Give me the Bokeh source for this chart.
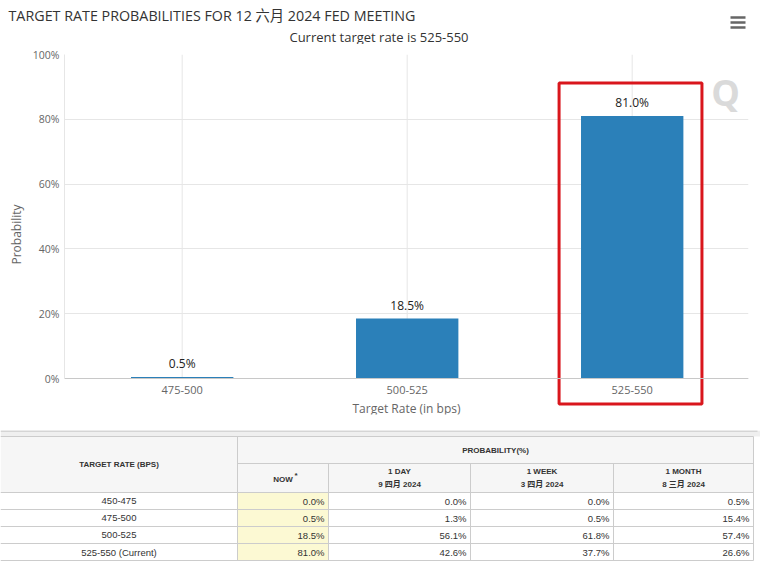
from bokeh.plotting import figure
from bokeh.models import Range1d, FixedTicker, Span, ColumnDataSource
from bokeh.layouts import column
from bokeh.embed import file_html
from bokeh.resources import INLINE
from bokeh.core.properties import value

# ---------------- data ----------------
chart_title = "TARGET RATE PROBABILITIES FOR 12 六月 2024 FED MEETING"
chart_subtitle = "Current target rate is 525-550"
categories = ["475-500", "500-525", "525-550"]
probabilities = [0.5, 18.5, 81.0]
current_category = "525-550"
y_ticks = [0, 20, 40, 60, 80, 100]
y_tick_labels = ["0%", "20%", "40%", "60%", "80%", "100%"]
x_axis_title = "Target Rate (in bps)"
y_axis_title = "Probability"

table_rates = ["450-475", "475-500", "500-525", "525-550 (Current)"]
prob_now = [0.0, 0.5, 18.5, 81.0]
prob_1day = [0.0, 1.3, 56.1, 42.6]
prob_1week = [0.0, 0.5, 61.8, 37.7]
prob_1month = [0.5, 15.4, 57.4, 26.6]
period_names = ["NOW", "1 DAY", "1 WEEK", "1 MONTH"]
period_dates = ["", "9 四月 2024", "3 四月 2024", "8 三月 2024"]
table_head_left = "TARGET RATE (BPS)"
table_head_top = "PROBABILITY(%)"

CHART_FONT = "Open Sans, Noto Sans CJK SC"
GRID = "#e6e6e6"
AXIS_TXT = "#666666"
W = 757

# ---------------- header (title, subtitle, menu icon) ----------------
HH = 44
hdr_fig = figure(width=W, height=HH, x_range=Range1d(0, W), y_range=Range1d(HH, 0), min_border=0,
                 x_axis_location=None, y_axis_location=None, toolbar_location=None, title=None,
                 output_backend="svg", outline_line_color=None)
hdr_fig.frame_align = False
hdr_fig.grid.visible = False
hdr_fig.text(x=[8], y=[15], text=[chart_title], text_align="left", text_baseline="middle",
             text_font=value(CHART_FONT), text_font_size="14.3px", text_color="#333333")
hdr_fig.text(x=[W / 2], y=[36], text=[chart_subtitle], text_align="center",
             text_baseline="middle", text_font=value(CHART_FONT), text_font_size="13px",
             text_color="#333333")
hdr_fig.segment(x0=[730, 730, 730], y0=[17, 22, 27], x1=[745, 745, 745], y1=[17, 22, 27],
                line_color="#666666", line_width=2.5)

# ---------------- chart ----------------
H = 430 - HH
FRAME_L, FRAME_R = 64, 748
FRAME_T, BASE_Y, FRAME_B = 54 - HH, 378 - HH, 414 - HH
CAT_PX = 225.0
FIRST_CENTER = 181.7
ppu = (BASE_Y - FRAME_T) / 100.0
x_start = -(FIRST_CENTER - FRAME_L) / CAT_PX
x_end = x_start + (FRAME_R - FRAME_L) / CAT_PX
y_start = -(FRAME_B - BASE_Y) / ppu

p = figure(width=W, height=H, x_range=Range1d(x_start, x_end), y_range=Range1d(y_start, 100),
           min_border_left=FRAME_L, min_border_right=W - FRAME_R, min_border_top=FRAME_T,
           min_border_bottom=H - FRAME_B, x_axis_location=None, toolbar_location=None,
           title=None, output_backend="svg", outline_line_color=None)
p.frame_align = False
p.background_fill_color = "white"
p.border_fill_color = "white"

p.yaxis.ticker = FixedTicker(ticks=y_ticks)
p.yaxis.major_label_overrides = {t: l for t, l in zip(y_ticks, y_tick_labels)}
p.yaxis.bounds = (0, 100)
p.yaxis.axis_line_color = GRID
p.yaxis.major_tick_line_color = None
p.yaxis.minor_tick_line_color = None
p.yaxis.major_tick_out = 0
p.yaxis.major_tick_in = 0
p.yaxis.minor_tick_out = 0
p.yaxis.major_label_text_font = CHART_FONT
p.yaxis.major_label_text_font_size = "10.5px"
p.yaxis.major_label_text_color = AXIS_TXT
p.yaxis.major_label_standoff = 5
p.yaxis.axis_label = y_axis_title
p.yaxis.axis_label_text_font = CHART_FONT
p.yaxis.axis_label_text_font_size = "12px"
p.yaxis.axis_label_text_font_style = "normal"
p.yaxis.axis_label_text_color = AXIS_TXT
p.yaxis.axis_label_standoff = 5
p.ygrid.grid_line_color = GRID
p.xgrid.grid_line_color = None

xs = list(range(len(categories)))
src = ColumnDataSource(dict(x=xs, top=probabilities, cat=categories,
                            label=[f"{v:.1f}%" for v in probabilities]))

p.segment(x0=xs, y0=[0] * len(xs), x1=xs, y1=[100] * len(xs), line_color=GRID, level="underlay")
p.vbar(x="x", top="top", bottom=0, width=0.455, source=src, fill_color="#2b80b9", line_color=None)
p.add_layout(Span(location=0, dimension="width", line_color="#c8c8c8", line_width=1))

p.text(x="x", y="top", text="label", source=src, text_align="center", text_baseline="bottom",
       y_offset=-5, text_font=value(CHART_FONT), text_font_size="12px", text_color="#222222")
p.text(x="x", y=0, text="cat", source=src, text_align="center", text_baseline="top",
       y_offset=7, text_font=value(CHART_FONT), text_font_size="11px", text_color=AXIS_TXT)
p.text(x=[(x_start + x_end) / 2], y=[0], text=[x_axis_title], text_align="center",
       text_baseline="top", y_offset=21, text_font=value(CHART_FONT), text_font_size="12px",
       text_color=AXIS_TXT)

hi = categories.index(current_category)
p.quad(left=[hi - 0.325], right=[hi + 0.310], top=[91.2], bottom=[-7.87], fill_color=None,
       line_color="#d9161c", line_width=3)

p.text(x=[hi + 0.415], y=[88.3], text=["Q"], text_align="center", text_baseline="middle",
       text_font=value("Open Sans"), text_font_style="bold", text_font_size="36px",
       text_color="#dadada")

# ---------------- table ----------------
TW, TH = 760, 133
t = figure(width=TW, height=TH, x_range=Range1d(0, TW), y_range=Range1d(TH, 0), min_border=0,
           x_axis_location=None, y_axis_location=None, toolbar_location=None, title=None,
           output_backend="svg", outline_line_color=None)
t.frame_align = False
t.grid.visible = False
t.background_fill_color = "white"

col_edges = [0, 237, 328, 470, 613, 753]
T_TOP, T_MID, T_HEAD = 6, 33, 62
ROW_H = 17
n_rows = len(table_rates)
row_edges = [T_HEAD + i * ROW_H for i in range(n_rows + 1)]
LINE = "#cccccc"
TFONT = "Liberation Sans, Noto Sans CJK SC"

t.quad(left=[0], right=[TW], top=[0], bottom=[T_TOP], fill_color="#efefef", line_color=None)
t.segment(x0=[0], y0=[0.5], x1=[W], y1=[0.5], line_color="#bbbbbb")
t.quad(left=[0], right=[col_edges[-1]], top=[T_TOP], bottom=[T_HEAD], fill_color="#f6f6f6",
       line_color=None)
t.quad(left=[col_edges[1]], right=[col_edges[2]], top=[T_HEAD], bottom=[row_edges[-1]],
       fill_color="#fcf9d3", line_color=None)

hx0, hy0, hx1, hy1 = [], [], [], []
for y in [T_TOP, T_HEAD] + row_edges[1:]:
    hx0.append(0); hx1.append(col_edges[-1]); hy0.append(y); hy1.append(y)
hx0.append(col_edges[1]); hx1.append(col_edges[-1]); hy0.append(T_MID); hy1.append(T_MID)
for i, x in enumerate(col_edges[1:]):
    hx0.append(x); hx1.append(x)
    hy0.append(T_TOP if i in (0, len(col_edges) - 2) else T_MID)
    hy1.append(row_edges[-1])
t.segment(x0=hx0, y0=hy0, x1=hx1, y1=hy1, line_color=LINE, line_width=1)

hdr = dict(text_font=value(TFONT), text_font_size="8px", text_font_style="bold",
           text_color="#333333", text_baseline="middle")
t.text(x=[col_edges[1] / 2], y=[(T_TOP + T_HEAD) / 2], text=[table_head_left],
       text_align="center", **hdr)
t.text(x=[(col_edges[1] + col_edges[-1]) / 2], y=[(T_TOP + T_MID) / 2], text=[table_head_top],
       text_align="center", **hdr)
centers = [(col_edges[i + 1] + col_edges[i + 2]) / 2 for i in range(len(period_names))]
single = [c for c, d in zip(centers, period_dates) if not d]
t.text(x=single, y=[(T_MID + T_HEAD) / 2 + 1] * len(single),
       text=[n for n, d in zip(period_names, period_dates) if not d], text_align="center", **hdr)
t.text(x=[c + 13 for c in single], y=[(T_MID + T_HEAD) / 2 - 3] * len(single),
       text=["*"] * len(single), text_align="center", **hdr)
dbl = [i for i, d in enumerate(period_dates) if d]
t.text(x=[centers[i] for i in dbl], y=[T_MID + 7.5] * len(dbl),
       text=[period_names[i] for i in dbl], text_align="center", **hdr)
t.text(x=[centers[i] for i in dbl], y=[T_MID + 20.5] * len(dbl),
       text=[period_dates[i] for i in dbl], text_align="center", **hdr)

cell = dict(text_font=value(TFONT), text_font_size="9.5px", text_color="#333333",
            text_baseline="middle")
row_mid = [row_edges[i] + ROW_H / 2 for i in range(n_rows)]
t.text(x=[col_edges[1] / 2] * n_rows, y=row_mid, text=table_rates, text_align="center", **cell)
for ci, series in enumerate([prob_now, prob_1day, prob_1week, prob_1month]):
    t.text(x=[col_edges[ci + 2] - 4] * n_rows, y=row_mid, text=[f"{v:.1f}%" for v in series],
           text_align="right", **cell)

layout = column(hdr_fig, p, t, spacing=0)
open("out.html", "w").write(file_html(layout, INLINE))
